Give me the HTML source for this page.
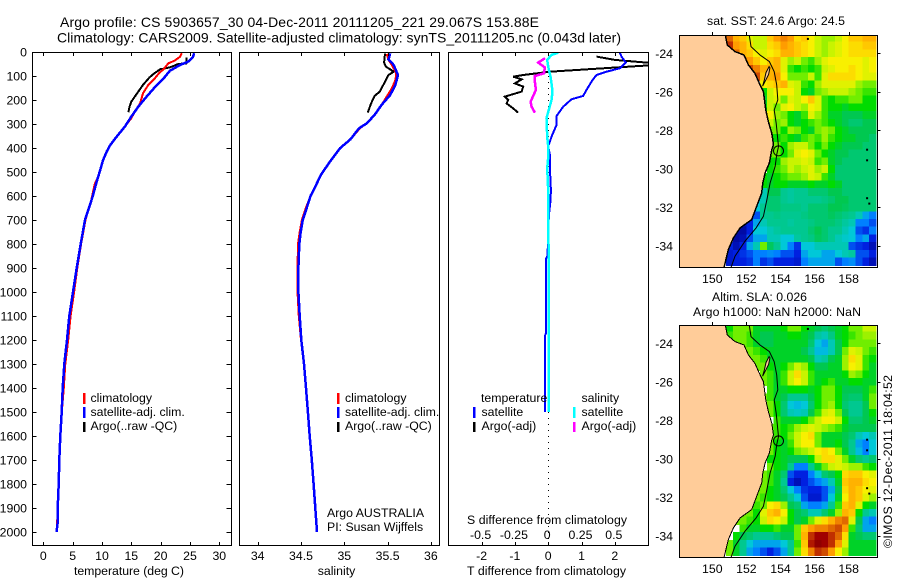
<!DOCTYPE html>
<html lang="en">
<head>
<meta charset="utf-8">
<title>Argo profile CS 5903657_30</title>
<style>
html,body{margin:0;padding:0;background:#fff;width:900px;height:580px;overflow:hidden}
svg{display:block}
text{font-family:"Liberation Sans",sans-serif;font-size:12.3px;fill:#000}
.t14{font-size:14px}
.mid{text-anchor:middle}
.end{text-anchor:end}
</style>
</head>
<body>
<svg id="figure" xmlns="http://www.w3.org/2000/svg" width="900" height="580" viewBox="0 0 900 580">
  <defs>
    <clipPath id="clip-temp"><rect x="32.5" y="52" width="199" height="493"/></clipPath>
    <clipPath id="clip-sal"><rect x="239.5" y="52" width="200" height="493"/></clipPath>
    <clipPath id="clip-diff"><rect x="448.5" y="52" width="200" height="493"/></clipPath>
    <clipPath id="clip-map-sst"><rect x="679.5" y="35" width="198" height="232"/></clipPath>
    <clipPath id="clip-map-sla"><rect x="679.5" y="325" width="198" height="232"/></clipPath>
  </defs>

  <g id="heat-sst" clip-path="url(#clip-map-sst)"></g>
  <g id="heat-sla" clip-path="url(#clip-map-sla)"></g>
  <g id="plot-temp" clip-path="url(#clip-temp)"></g>
  <g id="plot-sal" clip-path="url(#clip-sal)"></g>
  <g id="plot-diff" clip-path="url(#clip-diff)"></g>
  <g id="axes"></g>

  <text class="t14" x="60" y="27" textLength="479" lengthAdjust="spacing">Argo profile: CS 5903657_30 04-Dec-2011 20111205_221 29.067S 153.88E</text>
  <text class="t14" x="57" y="42.5" textLength="564" lengthAdjust="spacing">Climatology: CARS2009. Satellite-adjusted climatology: synTS_20111205.nc (0.043d later)</text>

  <text x="74" y="575" textLength="110" lengthAdjust="spacing">temperature (deg C)</text>
  <text class="mid" x="336.5" y="575">salinity</text>
  <text class="mid" x="546.5" y="575" textLength="159" lengthAdjust="spacing">T difference from climatology</text>
  <text class="mid" x="547" y="524" textLength="160" lengthAdjust="spacing">S difference from climatology</text>

  <g>
    <rect x="83" y="393" width="2.5" height="11" fill="#f00"/>
    <rect x="83" y="407" width="2.5" height="11" fill="#00f"/>
    <rect x="83" y="422" width="2.5" height="10" fill="#000"/>
    <text x="90.5" y="402">climatology</text>
    <text x="90.5" y="416">satellite-adj. clim.</text>
    <text x="90.5" y="430">Argo(..raw -QC)</text>
  </g>
  <g>
    <rect x="337" y="393" width="2.5" height="11" fill="#f00"/>
    <rect x="337" y="407" width="2.5" height="11" fill="#00f"/>
    <rect x="337" y="422" width="2.5" height="10" fill="#000"/>
    <text x="345" y="402">climatology</text>
    <text x="345" y="416">satellite-adj. clim.</text>
    <text x="345" y="430">Argo(..raw -QC)</text>
  </g>
  <text x="327" y="517">Argo AUSTRALIA</text>
  <text x="327" y="531">PI: Susan Wijffels</text>

  <g>
    <text x="481" y="402">temperature</text>
    <text x="581.5" y="402">salinity</text>
    <rect x="473" y="407" width="2.5" height="11" fill="#00f"/>
    <rect x="473" y="422" width="2.5" height="10" fill="#000"/>
    <rect x="573" y="407" width="2.5" height="11" fill="#0ff"/>
    <rect x="573" y="422" width="2.5" height="10" fill="#f0f"/>
    <text x="481.5" y="416">satellite</text>
    <text x="481.5" y="430">Argo(-adj)</text>
    <text x="581.5" y="416">satellite</text>
    <text x="581.5" y="430">Argo(-adj)</text>
  </g>

  <text x="707" y="25" textLength="138" lengthAdjust="spacing">sat. SST: 24.6 Argo: 24.5</text>
  <text x="712" y="301" textLength="95" lengthAdjust="spacing">Altim. SLA: 0.026</text>
  <text x="693" y="316" textLength="168" lengthAdjust="spacing">Argo h1000: NaN h2000: NaN</text>
  <text x="892" y="548" transform="rotate(-90 892 548)" textLength="173" lengthAdjust="spacing">©IMOS 12-Dec-2011 18:04:52</text>
</svg>

<script>
/* ---------- axis tick labels ---------- */
const depthTicks = [0,100,200,300,400,500,600,700,800,900,1000,1100,1200,1300,1400,1500,1600,1700,1800,1900,2000];
const tempTicks = [0,5,10,15,20,25,30];
const salinityTicks = [34,34.5,35,35.5,36];
const tDiffTicks = [-2,-1,0,1,2];
const sDiffTicks = [-0.5,-0.25,0,0.25,0.5];
const sDiffLabels = ['-0.5','-0.25','0','0.25','0.5'];
const lonTicks = [150,152,154,156,158];
const latTicks = [-24,-26,-28,-30,-32,-34];

/* ---------- temperature profiles ---------- */
const tempClimDepth = [5,20,36,47,72,86,110,137,172,214,249,276,311,353,388,415,450,492,519,547,614,700,800,900,1000,1100,1200,1300,1400,1500,1600,1700,1800,1900,2000];
const tempClimValues = [23.6,23.3,22.4,21.3,20.5,19.8,19,17.9,17,16.5,15.6,15,13.9,12.5,11.4,10.8,10.2,9.7,9.4,8.8,8.2,7.2,6.45,5.8,5.25,4.65,4.25,3.75,3.5,3.15,2.9,2.73,2.62,2.45,2.3];
const tempSatDepth = [5,22,40,54,78,110,147,186,228,269,311,353,388,415,450,492,540,603,700,800,900,1000,1100,1200,1300,1400,1500,1600,1700,1800,1900,1960,2000];
const tempSatValues = [25.7,25.5,24.7,23.3,21.6,20.5,19,17.6,16.2,15,13.9,12.5,11.4,10.8,10.2,9.7,9.1,8.4,7.1,6.37,5.7,5.06,4.44,4.04,3.58,3.3,3.13,2.9,2.73,2.62,2.45,2.45,2.25];
const tempArgoDepth = [22,47,50,64,72,92,106,137,165,186,207,228,251];
const tempArgoValues = [24.4,24.4,23,21.6,19.9,18.75,18.1,17,16.2,15.6,15,14.7,14.5];

/* ---------- salinity profiles ---------- */
const salClimDepth = [8,33,54,89,117,151,186,221,262,297,318,364,401,464,512,572,600,650,700,750,800,900,1000,1100,1200,1300,1400,1500,1600,1700,1800,1900,2000];
const salClimValues = [35.49,35.51,35.55,35.6,35.59,35.55,35.49,35.43,35.35,35.26,35.18,35.07,34.95,34.82,34.73,34.65,34.61,34.555,34.51,34.485,34.465,34.46,34.46,34.475,34.5,34.535,34.558,34.58,34.6,34.625,34.645,34.665,34.685];
const salSatDepth = [6,31,54,96,137,179,221,262,297,318,364,401,464,512,572,600,650,700,750,800,900,1000,1100,1200,1300,1400,1500,1600,1700,1800,1900,2000];
const salSatValues = [35.53,35.51,35.57,35.62,35.59,35.53,35.43,35.35,35.26,35.17,35.07,34.95,34.82,34.73,34.65,34.61,34.566,34.52,34.497,34.48,34.47,34.47,34.485,34.503,34.535,34.558,34.58,34.6,34.625,34.645,34.665,34.685];
const salArgoDepth = [6,44,61,82,96,131,165,183,214,253];
const salArgoValues = [35.47,35.46,35.48,35.57,35.51,35.46,35.41,35.35,35.31,35.27];

/* ---------- difference profiles ---------- */
const tDiffSatDepth = [3,19,44,68,82,96,117,158,183,197,228,267,304,353,394,429,485,575,620,680,850,860,1170,1180,1500];
const tDiffSatValues = [2.15,2.2,2.33,2.15,1.75,1.45,1.33,1.15,1.05,0.7,0.45,0.25,0.25,0.1,0,0.05,0.05,0.08,0.07,0.02,-0.02,-0.06,-0.06,-0.09,-0.09];
const tDiffArgoDepth = [19,33,47,54,82,96,103,114,131,144,165,186,200,214,235,253];
const tDiffArgoValues = [1.45,2,3.2,3.2,0.05,-0.75,-1.05,-0.8,-1,-0.75,-0.8,-1.3,-1.2,-1.25,-1.05,-0.9];
const sDiffSatDepth = [3,12,33,61,103,131,165,200,235,276,353,394,440,485,575,800,1200,1500];
const sDiffSatValues = [0.075,0.025,-0.0075,0,0.0175,0.025,0.0325,0.025,0.0075,-0.0125,-0.0075,0,0,-0.0075,0,0.002,0.002,0.002];
const sDiffArgoDepth = [26,44,64,89,100,124,158,207,228,253];
const sDiffArgoValues = [-0.025,-0.075,-0.025,-0.0325,-0.1,-0.1,-0.0925,-0.1325,-0.125,-0.1];

/* ---------- map grids: colour level per 0.4 degree cell, null = land ---------- */
const N = null;
const sstGrid = [
[12,10.5,10,8.5,8,8,10,11,11.5,11,9.5,10,9,8,7.5,7.5,8,9,10,10,10.5,10.5],
[13,11,10.5,9.5,8,8,9.5,10,11,10.5,10,9.5,9,8,7.5,8,8.5,9,9.5,9.5,10,10],
[N,12,10.5,10,9,8.5,9,9.5,10.5,10.5,10,9.5,9,8,7.5,8,8.5,9,9.5,9.5,9.5,9.5],
[N,N,11.5,11,10,9,10,10.5,8.5,7.5,8,7,6.5,7.5,8.5,9,9,9,9,9,8.5,9],
[N,N,N,12.5,11.5,10.5,10.5,10.5,8.5,6.5,6,6.5,6,6.5,8,8.5,9,9,9.5,9,8.5,9],
[N,N,N,N,12.5,10,10.5,11,9,7,7,7,8,6.5,8.5,9.5,9.5,9.5,9.5,9,8.5,8.5],
[N,N,N,N,N,9,9.5,10,10.5,8.5,8,6.5,6,7.5,8.5,8.5,8.5,8.5,8.5,7.5,7,7],
[N,N,N,N,N,6,8,9,9,9,8,6,5.5,7,7.5,8,8,8,7.5,7,6.5,6.5],
[N,N,N,N,N,5.5,8,8.5,7,8.5,8,9,10,8.5,6.5,6,6.5,6.5,7,7,6,6],
[N,N,N,N,N,6,8,7,8.5,9,8,7.5,9,8.5,6.5,6,6,5.5,6,6,6,6],
[N,N,N,N,N,8,9,7.5,7,6,5.5,6.5,8.5,7.5,6.5,5.5,5.5,5,5,5,5.5,5.5],
[N,N,N,N,N,N,8,7,7.5,6,5.5,6,6.5,7,6.5,6,5.5,5,4.5,4.5,5,5],
[N,N,N,N,N,N,7,7,6,7.5,7,6,5.5,7,7.5,7,6,5.5,5,5,5,5],
[N,N,N,N,N,N,6,6,6.5,6,5.5,6.5,7,6.5,7.5,6.5,6,5.5,5.5,5,5,4.5],
[N,N,N,N,N,N,7,7,6,7.5,8,8,7,6,7,6,5.5,5,5,5,4.5,4.5],
[N,N,N,N,N,N,7,7,6,7,8.5,9,8.5,7,6,5.5,5,5,4.5,4.5,4.5,4.5],
[N,N,N,N,N,N,6,6,7.5,8,8,8.5,8,6.5,7,5.5,5,4.5,4.5,4.5,4.5,4.5],
[N,N,N,N,N,N,6,6.5,7,8,7.5,8,8.5,7.5,8,6,4.5,4.5,4.5,4.5,4.5,4.5],
[N,N,N,N,N,6,5.5,6,6.5,7,7,7.5,8.5,8,6.5,5.5,4.5,4.5,4.5,4.5,4.5,4.5],
[N,N,N,N,N,6,5.5,6,6,5.5,5.5,5.5,6,5.5,5.5,6,5.5,4.5,4.5,4.5,4.5,4.5],
[N,N,N,N,N,3.5,5,5,4,3.8,4,4,4.5,4.5,4.5,5,5,4.5,4.5,4.5,4.5,4.5],
[N,N,N,N,3,3.5,4.5,4.5,4,3.8,4,4,4,4,4.2,4.5,5,5,4.5,4.5,4.5,4.5],
[N,N,N,N,3,4,4.5,4.5,4.2,4.2,4.2,4,4.5,4.5,4.5,5,5,4.8,4.5,4.5,4.5,4.5],
[N,N,N,0.8,1.5,4,4,4.2,4,4,4,4.2,4.5,4.5,4.5,4.8,4.5,4.2,4,3.5,2.5,2],
[N,N,0.5,1,2.5,3.5,4,4,4,3.8,4,4,4.2,4.5,4.5,4.5,4.2,3.8,3.5,2,2,1.5],
[N,0.3,0.3,1,3,3,3.5,3.8,4,4,4,4,4.5,5,4.5,4,4,3.5,3,1.5,1.2,2],
[N,0.3,0.5,1.5,2.5,2.5,3.5,3.5,3,3,3.8,4,4.2,4.8,4.5,4,3.5,3.2,3,2,2.5,1],
[1,0.5,1,2.5,3.5,7,4.8,4,3,2,1.2,3,3,3.5,3.5,3.5,3.5,3.5,1.5,1.2,1,0.5],
[0.8,1,1.2,1.5,2,2,2.2,2,1.5,1.5,1,2.5,3,3,2.5,2.5,3,3.5,3.8,1.5,1.5,1],
[0.8,1,1,1.2,2,1.2,1.5,1,1,1,0.8,2,2.5,2.5,2.5,2.5,1.5,2,2.2,1.5,1,0.5]
];
const slaGrid = [
[6,7,7,7,5.5,5.5,5.5,5.5,6,7,7,6,5.5,5,4.5,5,5.5,6,7,7,8,8],
[6.5,7,7,6.5,5.5,5,5,5.5,5.5,6,6,5.5,5,3.8,3.5,4.2,5.5,6,6.5,7,7.5,7.5],
[N,7,7,6.5,5.5,5,5,5.5,5.5,5.5,5.5,5.5,4.5,3,2.5,3.5,5,6,7,7,7,7],
[N,N,7,7,6.5,6,5.5,5.5,5.5,5.5,5.5,5,4,2.8,2.8,3.5,5,7,8.5,8,7,6.5],
[N,N,N,7,7,6.5,5.5,5.5,5.5,5.5,5.5,5.5,5,3.5,3.8,5,5.5,7.5,9.5,8.5,6.5,6],
[N,N,N,N,7,7,6,5.5,6,7,8,7.5,6,5,5,5.5,5.5,7.5,9,8.5,6.5,5.5],
[N,N,N,N,N,7,6.5,5.5,6.5,8,9.5,8,6.5,5.5,5.5,5.5,5.5,6,7.5,7,6,5.5],
[N,N,N,N,N,7,6.5,5.5,6.5,8,9,8,6.5,5.5,6,6.5,5.5,5.5,6,6,5.5,5.5],
[N,N,N,N,N,N,6.5,5.5,5.5,6,6,6,5.5,6,7,7,6,5,5,5,5.5,6.5],
[N,N,N,N,N,7,6.5,5.5,5,4,4,4,5,6,7,7,6,4.8,4.5,4.5,5.5,7],
[N,N,N,N,N,N,7,6,4.5,3,2.8,3,4.5,6,7,7.5,6,4.5,4,4,5,7],
[N,N,N,N,N,N,7,6,4.5,3.5,3.3,3.5,5,6.5,8,8.5,7,5,4,4,5,6],
[N,N,N,N,N,N,N,6.5,5.5,5.5,5.5,6,7,8,9,9,8,6,4.5,4.5,5,5.5],
[N,N,N,N,N,N,7,6.5,6,6.5,7.5,8,8.5,8,7.5,7,6.5,5.5,5,5,5,5],
[N,N,N,N,N,N,7,6.5,6,7,8,9,9.5,7,5.5,5.5,5.5,5,4.5,3.5,3,3.5],
[N,N,N,N,N,N,7,6,5.5,6.5,8,9,9,7,5.5,5.5,6,5,4,2.5,2,3],
[N,N,N,N,N,N,7,6,5.5,6,7,7.5,8,9,9.5,9,7,5.5,4,2.8,2,3],
[N,N,N,N,N,N,6,6,5.5,5,5,5,6,8,9.5,9.5,8.5,7,5.5,4.5,4,4.5],
[N,N,N,N,N,N,7,6,5.5,4,2,2,4,5.5,7,8,8.5,8,7.5,7.5,6.5,6],
[N,N,N,N,N,7,6.5,5.5,4.5,1.5,1,1,2,3,4.5,5,6,9.5,10,10,9,8.5],
[N,N,N,N,N,7,6.5,5.5,4,1,0.5,1,1.5,2,2.5,3.5,5.5,10,10.5,10.5,9.5,9],
[N,N,N,N,7,7,6,5.5,4.5,3,2,1.2,1,1,1.5,2.5,5,9.5,10.5,10,9,8.5],
[N,N,N,N,7,6.5,6,5.5,5,4,3,1.5,0.8,0.8,1.5,3,5.5,9,10.5,10,8.5,7.5],
[N,N,N,7,6.5,7,9,9.5,7.5,5,4.5,2.5,2,2,2.5,4,6.5,10,10.5,8.5,6,5.5],
[N,N,7,7,6,8.5,10,10.5,9,6,5,4.5,3.5,3.5,4.5,5.5,7.5,10.5,10,6,4,3.5],
[N,7,7,6.5,6,8,9.5,9,8,6,5,5.5,7,8.5,9.5,10.5,11.5,12,8.5,5,2.5,2],
[N,N,6.5,5.5,5.5,6,6,6.5,5.5,5.5,7,10,11,11.5,11.5,12,12.5,11,6.5,4.5,2.5,2.5],
[N,6,5,4.5,4,4,4,4.5,5,5,7,10.5,13,14,14,13,12,9.5,5.5,5,4.5,4.5],
[7,5.5,4,3,2.5,2.5,2.5,2.5,3,4,6.5,10,13.5,14.5,14,13,11,8.5,5.5,5.5,5.5,5.5],
[7,5.5,4,2.5,2,1.5,1,1.5,2.5,4,7,9.5,11.5,13,12.5,11,9,7.5,5.5,5.5,5.5,5.5]
];
const colourLevels = ['#00008c','#0020e0','#0080ff','#00c8d8','#00c890','#00c850','#00dc00','#70ee00','#c8f400','#f8f000','#ffc800','#ff9c00','#e06800','#c03000','#a00000','#800000'];

/* ---------- map geography (lon, lat) ---------- */
const coastLon = [150.75,150.88,151.33,151.86,152.12,152.5,152.76,153.0,153.06,153.14,153.29,153.49,153.59,153.49,153.35,153.1,152.96,152.9,152.57,152.31,151.63,151.24,150.94,150.69];
const coastLat = [-23.0,-23.57,-23.91,-24.09,-24.6,-25.04,-25.56,-25.99,-26.42,-26.94,-27.55,-28.15,-28.76,-29.0,-29.69,-30.2,-30.73,-31.25,-32.02,-32.63,-33.06,-33.58,-34.19,-35.1];
const isobathLon = [152.16,152.27,152.8,153.35,153.63,153.78,153.84,153.63,153.75,153.88,153.78,153.69,153.39,153.2,153.0,152.57,151.92,151.33,151.1];
const isobathLat = [-23.0,-23.65,-24.09,-24.43,-24.95,-25.64,-26.42,-26.94,-27.63,-28.84,-29.26,-29.86,-30.73,-31.59,-32.46,-33.06,-33.75,-34.53,-35.1];
const islandLon = [153.33,153.15,153.05,152.95,153.1,153.3,153.38];
const islandLat = [-24.69,-25.0,-25.4,-25.7,-25.45,-25.1,-24.75];
const reefLon = [155.55,159.02,159.02,159.02,159.15];
const reefLat = [-23.2,-28.95,-29.5,-31.47,-31.75];
const argoLon = 153.88;
const argoLat = -29.067;

/* ---------- helpers ---------- */
const svgNS = 'http://www.w3.org/2000/svg';
function mk(parent, tag, attrs, name) {
  const el = document.createElementNS(svgNS, tag);
  for (const k in attrs) el.setAttribute(k, attrs[k]);
  
  
  parent.appendChild(el);
  return el;
}
function txt(parent, x, y, s, anchor, name) {
  const el = mk(parent, 'text', {x: x, y: y, 'text-anchor': anchor}, name);
  el.textContent = s;
  return el;
}
const yDepth = d => 52 + 0.24 * d;
const xTemp = v => 43.3 + 5.867 * v;
const xSal = v => 257.7 + 86.6 * (v - 34);
const xTDiff = v => 548.2 + 33.3 * v;
const xSDiff = v => 548.2 + 133.2 * v;
function profile(parent, depths, values, xf, colour, width, name) {
  const pts = depths.map((d, i) => xf(values[i]).toFixed(1) + ',' + yDepth(d).toFixed(1)).join(' ');
  mk(parent, 'polyline', {points: pts, fill: 'none', stroke: colour, 'stroke-width': width, 'shape-rendering': 'crispEdges'}, name);
}
function panelFrame(axes, x0, x1, y0, y1, name) {
  mk(axes, 'rect', {x: x0, y: y0, width: x1 - x0, height: y1 - y0, fill: 'none', stroke: '#000', 'stroke-width': 1, 'shape-rendering': 'crispEdges'}, name);
}
function tick(axes, x1, y1, x2, y2, name) {
  mk(axes, 'line', {x1: x1, y1: y1, x2: x2, y2: y2, stroke: '#000', 'stroke-width': 1, 'shape-rendering': 'crispEdges'}, name);
}
function hexToRgb(h) {
  return [parseInt(h.slice(1,3),16), parseInt(h.slice(3,5),16), parseInt(h.slice(5,7),16)];
}
function levelColour(v) {
  const c = Math.max(0, Math.min(colourLevels.length - 1.001, v));
  const i = Math.floor(c), f = c - i;
  const a = hexToRgb(colourLevels[i]), b = hexToRgb(colourLevels[i + 1]);
  return 'rgb(' + a.map((p, k) => Math.round(p + (b[k] - p) * f)).join(',') + ')';
}

/* ---------- profile panels ---------- */
const plotTemp = document.getElementById('plot-temp');
profile(plotTemp, tempArgoDepth, tempArgoValues, xTemp, '#000', 2, 'temperature-argo-line');
profile(plotTemp, tempClimDepth, tempClimValues, xTemp, '#f00', 2, 'temperature-climatology-line');
profile(plotTemp, tempSatDepth, tempSatValues, xTemp, '#00f', 2.5, 'temperature-satellite-line');

const plotSal = document.getElementById('plot-sal');
profile(plotSal, salArgoDepth, salArgoValues, xSal, '#000', 2, 'salinity-argo-line');
profile(plotSal, salClimDepth, salClimValues, xSal, '#f00', 2, 'salinity-climatology-line');
profile(plotSal, salSatDepth, salSatValues, xSal, '#00f', 2.5, 'salinity-satellite-line');

const plotDiff = document.getElementById('plot-diff');
mk(plotDiff, 'line', {x1: 548.5, y1: 52, x2: 548.5, y2: 545, stroke: '#000', 'stroke-width': 1, 'stroke-dasharray': '1 5'}, 'zero-reference-line');
profile(plotDiff, tDiffArgoDepth, tDiffArgoValues, xTDiff, '#000', 2, 't-difference-argo-line');
profile(plotDiff, tDiffSatDepth, tDiffSatValues, xTDiff, '#00f', 2, 't-difference-satellite-line');
profile(plotDiff, sDiffArgoDepth, sDiffArgoValues, xSDiff, '#f0f', 2.5, 's-difference-argo-line');
profile(plotDiff, sDiffSatDepth, sDiffSatValues, xSDiff, '#0ff', 2.5, 's-difference-satellite-line');

/* ---------- profile axes ---------- */
const axes = document.getElementById('axes');
panelFrame(axes, 32.5, 231.5, 52.5, 545.5, 'temperature-frame');
panelFrame(axes, 239.5, 439.5, 52.5, 545.5, 'salinity-frame');
panelFrame(axes, 448.5, 648.5, 52.5, 545.5, 'difference-frame');

depthTicks.forEach(d => {
  const y = Math.round(yDepth(d)) + 0.5;
  tick(axes, 32.5, y, 36.5, y, 'depth-tick-left');
  tick(axes, 226.5, y, 231.5, y, 'depth-tick-right');
  txt(axes, 27, yDepth(d) + 4.5, String(d), 'end', 'depth-tick-label');
});
tempTicks.forEach(v => {
  const x = Math.round(xTemp(v)) + 0.5;
  tick(axes, x, 52.5, x, 56, 'temperature-tick-top');
  tick(axes, x, 542, x, 545.5, 'temperature-tick-bottom');
  txt(axes, xTemp(v), 560, String(v), 'middle', 'temperature-tick-label');
});
salinityTicks.forEach(v => {
  const x = Math.round(xSal(v)) + 0.5;
  tick(axes, x, 52.5, x, 56, 'salinity-tick-top');
  tick(axes, x, 542, x, 545.5, 'salinity-tick-bottom');
  txt(axes, xSal(v), 560, String(v), 'middle', 'salinity-tick-label');
});
tDiffTicks.forEach(v => {
  const x = Math.round(xTDiff(v)) + 0.5;
  tick(axes, x, 52.5, x, 56, 't-difference-tick-top');
  tick(axes, x, 542, x, 545.5, 't-difference-tick-bottom');
  txt(axes, xTDiff(v), 560, String(v), 'middle', 't-difference-tick-label');
});
sDiffTicks.forEach((v, i) => {
  txt(axes, xSDiff(v) - 1, 539, sDiffLabels[i], 'middle', 's-difference-tick-label');
});

/* ---------- maps ---------- */
const gridLon0 = 150.8, gridLat0 = -23, cellDeg = 0.4;
const pxPerLon = 17.05, pxPerLat = 19.27;
function drawMap(gid, grid, top, frameName, coastWidth) {
  const g = document.getElementById(gid);
  const xLon = lon => 712.3 + pxPerLon * (lon - 150);
  const yLat = lat => top + 18.3 + pxPerLat * (-24 - lat);
  grid.forEach((row, r) => {
    row.forEach((v, k) => {
      if (v === null) return;
      const x0 = xLon(gridLon0 + k * cellDeg), y0 = yLat(gridLat0 - r * cellDeg);
      mk(g, 'rect', {x: x0.toFixed(1), y: y0.toFixed(1), width: (cellDeg * pxPerLon + 0.5).toFixed(1), height: (cellDeg * pxPerLat + 0.5).toFixed(1), fill: levelColour(v), 'shape-rendering': 'crispEdges'}, 'map-cell');
    });
  });
  const coastPts = coastLon.map((lon, i) => xLon(lon).toFixed(1) + ',' + yLat(coastLat[i]).toFixed(1));
  const landPts = ['679,' + yLat(-35.2).toFixed(1), '679,' + yLat(-22.9).toFixed(1)].concat(coastPts);
  mk(g, 'polygon', {points: landPts.join(' '), fill: '#ffcc99', stroke: 'none'}, 'land');
  mk(g, 'polyline', {points: coastPts.join(' '), fill: 'none', stroke: '#000', 'stroke-width': coastWidth, 'shape-rendering': 'crispEdges'}, 'coastline');
  mk(g, 'polygon', {points: islandLon.map((lon, i) => xLon(lon).toFixed(1) + ',' + yLat(islandLat[i]).toFixed(1)).join(' '), fill: '#ffcc99', stroke: '#000', 'stroke-width': 1}, 'island');
  reefLon.forEach((lon, i) => {
    mk(g, 'rect', {x: xLon(lon).toFixed(1), y: yLat(reefLat[i]).toFixed(1), width: 2, height: 2, fill: '#000'}, 'reef-speck');
  });
  mk(g, 'polyline', {points: isobathLon.map((lon, i) => xLon(lon).toFixed(1) + ',' + yLat(isobathLat[i]).toFixed(1)).join(' '), fill: 'none', stroke: '#000', 'stroke-width': 1}, 'isobath-line');
  mk(g, 'circle', {cx: xLon(argoLon).toFixed(1), cy: yLat(argoLat).toFixed(1), r: 5, fill: 'none', stroke: '#000', 'stroke-width': 1}, 'argo-position-marker');

  panelFrame(axes, 679.5, 877.5, top + 0.5, top + 232.5, frameName);
  lonTicks.forEach(lon => {
    const x = Math.round(xLon(lon)) + 0.5;
    tick(axes, x, top - 3, x, top, 'longitude-tick');
    txt(axes, xLon(lon), top + 248, String(lon), 'middle', 'longitude-tick-label');
  });
  latTicks.forEach(lat => {
    const y = Math.round(yLat(lat)) + 0.5;
    tick(axes, 877.5, y, 880.5, y, 'latitude-tick');
    txt(axes, 673, yLat(lat) + 4.5, String(lat), 'end', 'latitude-tick-label');
  });
}
drawMap('heat-sst', sstGrid, 35, 'sst-map-frame', 1.5);
drawMap('heat-sla', slaGrid, 325, 'sla-map-frame', 1);
</script>
</body>
</html>
